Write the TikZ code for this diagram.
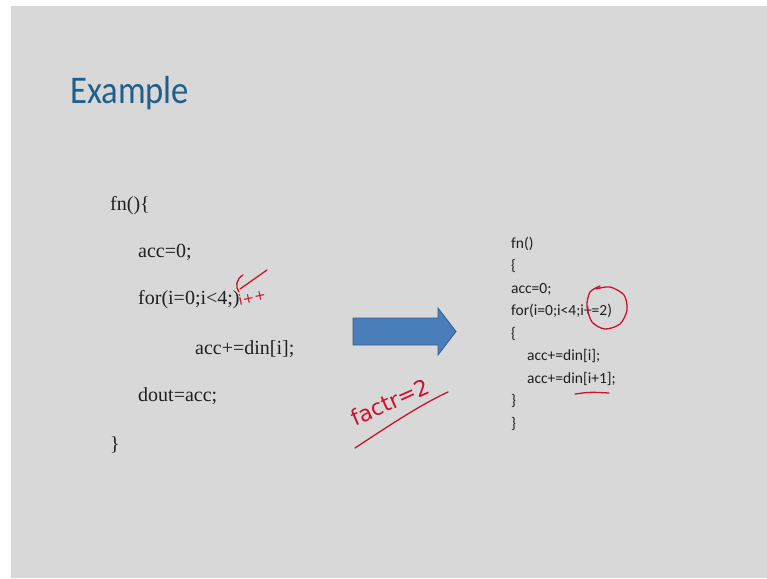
\documentclass[tikz,border=0pt]{standalone}
\usepackage{fontspec}
\setmainfont{Liberation Serif}
\newfontfamily\calib{Carlito}
\newfontfamily\handfont{DejaVu Sans}
\definecolor{slidebg}{RGB}{216,216,216}
\definecolor{titleblue}{RGB}{31,95,140}
\definecolor{inkred}{RGB}{204,18,44}
\definecolor{arrowfill}{RGB}{74,126,187}
\definecolor{arrowline}{RGB}{56,93,138}
\tikzset{
  leftcode/.style={anchor=base west, inner sep=0pt, font=\fontsize{20}{24}\selectfont, text=black!88},
  rightcode/.style={anchor=base west, inner sep=0pt, font=\calib\fontsize{15.5}{18}\selectfont, text=black!88},
  inkline/.style={draw=inkred, line width=1.3pt, line cap=round, line join=round},
  inktext/.style={inner sep=0pt, text=inkred, font=\handfont}
}
\begin{document}
\begin{tikzpicture}[x=1pt,y=-1pt]
\useasboundingbox (0,0) rectangle (767,578);
\fill[white] (0,0) rectangle (767,578);
\fill[slidebg] (11,6) rectangle (767,578);

\node[anchor=base west, inner sep=0pt, font=\calib\fontsize{35}{40}\selectfont, text=titleblue, xscale=0.99, yscale=1.12] (title) at (70,103) {Example};

% left code
\node[leftcode] (l1) at (110,210) {fn()\{};
\node[leftcode] (l2) at (138,257) {acc=0;};
\node[leftcode] (l3) at (138,304) {for(i=0;i<4;)};
\node[leftcode] (l4) at (195,354) {acc+=din[i];};
\node[leftcode] (l5) at (138,401) {dout=acc;};
\node[leftcode] (l6) at (110,450) {\}};

% right code
\node[rightcode] (r1) at (511,248) {fn()};
\node[rightcode] (r2) at (511,270.5) {\{};
\node[rightcode] (r3) at (511,293) {acc=0;};
\node[rightcode] (r4) at (511,315.5) {for(i=0;i<4;i+=2)};
\node[rightcode] (r5) at (511,338) {\{};
\node[rightcode] (r6) at (527,360.5) {acc+=din[i];};
\node[rightcode] (r7) at (527,383) {acc+=din[i+1];};
\node[rightcode] (r8) at (511,405.5) {\}};
\node[rightcode] (r9) at (511,428) {\}};

% block arrow
\draw[draw=arrowline, fill=arrowfill, line width=0.8pt, line join=miter]
  (353,318) -- (438,318) -- (438,308) -- (456,331.5) -- (438,355) -- (438,345) -- (353,345) -- cycle;

% red annotations
\draw[inkline] (267,270) -- (240,289);
\draw[inkline] (243,275) .. controls (236,279) and (235,287) .. (239,292);
\node[inktext, font=\handfont\fontsize{14}{14}\selectfont, rotate=12] (ipp) at (252,297) {i++};

\node[inktext, font=\handfont\fontsize{22}{22}\selectfont, rotate=24] (factor) at (390,402) {factr=2};
\draw[inkline] (355,448) .. controls (390,425) and (420,405) .. (448,392);

\draw[inkline] plot[smooth] coordinates {(596,289) (610,287) (624,295) (627,310) (620,324) (605,329) (592,322) (587,306) (590,292) (600,286)};
\draw[inkline] (575,394) .. controls (590,392) .. (609,393);
\end{tikzpicture}
\end{document}
